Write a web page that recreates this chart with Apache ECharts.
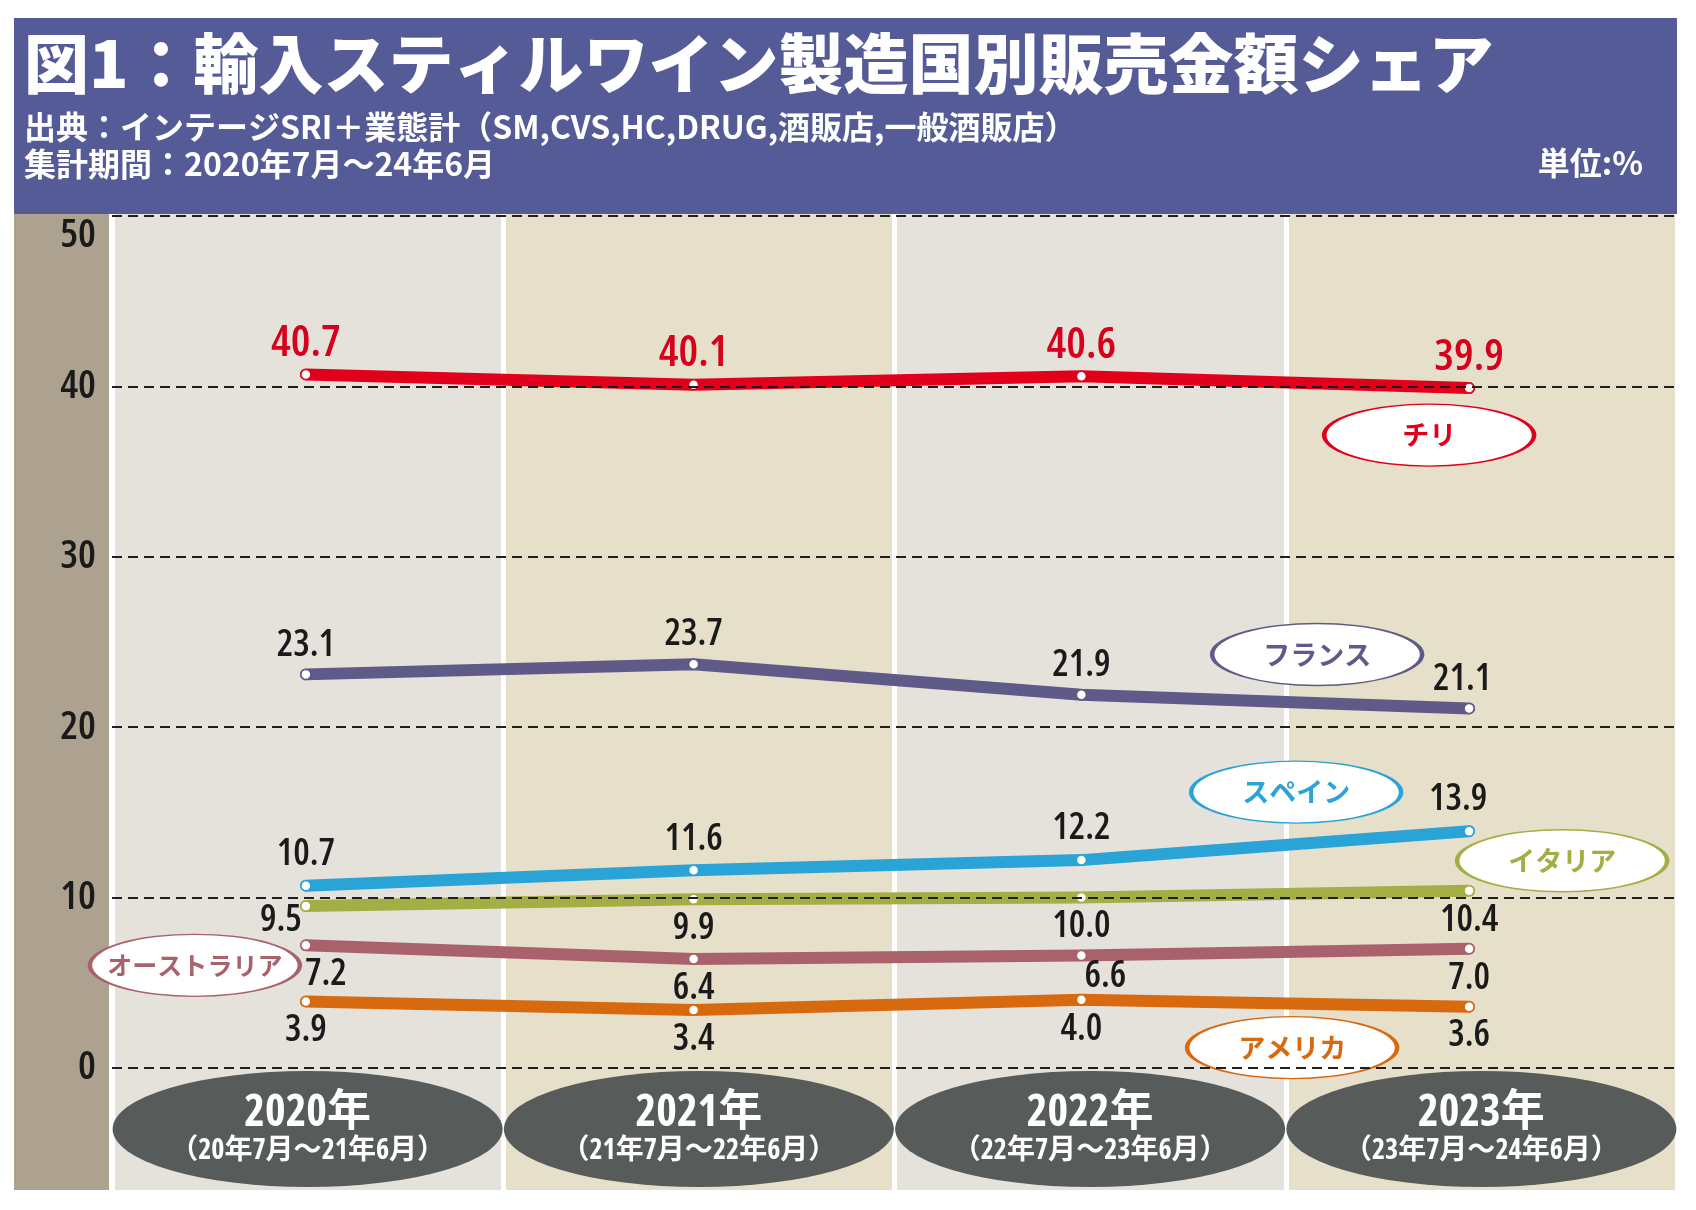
<!DOCTYPE html>
<html>
<head>
<meta charset="utf-8">
<script src="https://cdn.jsdelivr.net/npm/echarts@6/dist/echarts.min.js"></script>
<style>
html,body{margin:0;padding:0;background:#ffffff;}
#chart{width:1696px;height:1210px;}
</style>
</head>
<body>
<div id="chart"></div>
<script>
// ---------- data ----------
const categories = ['2020年', '2021年', '2022年', '2023年'];
const periods = ['（20年7月～21年6月）', '（21年7月～22年6月）', '（22年7月～23年6月）', '（23年7月～24年6月）'];
const yTickMin = 0, yTickMax = 50, yTickStep = 10;

const chile     = [40.7, 40.1, 40.6, 39.9];
const france    = [23.1, 23.7, 21.9, 21.1];
const spain     = [10.7, 11.6, 12.2, 13.9];
const italy     = [9.5, 9.9, 10.0, 10.4];
const australia = [7.2, 6.4, 6.6, 7.0];
const usa       = [3.9, 3.4, 4.0, 3.6];

const titleText = '図1：輸入スティルワイン製造国別販売金額シェア';
const sourceText = '出典：インテージSRI＋業態計（SM,CVS,HC,DRUG,酒販店,一般酒販店）';
const periodText = '集計期間：2020年7月～24年6月';
const unitText = '単位:%';

// ---------- styles ----------
const NUM = '"Open Sans","Roboto",sans-serif';
const NUM_W = '600 condensed';
const JP = '"Noto Sans CJK JP","Noto Sans JP",sans-serif';
const MIX = '"Open Sans","Noto Sans CJK JP",sans-serif';

const seriesDefs = [
  {name: 'チリ', values: chile, color: '#e0001b', labelColor: '#d6001c', labelSize: 44, pos: 'top', dist: 3, tagAt: 3, tagOff: [-40, 47]},
  {name: 'フランス', values: france, color: '#5f5a87', pos: 'top', dist: 5, tagAt: 3, tagOff: [-152, -54]},
  {name: 'スペイン', values: spain, color: '#2aa3d6', pos: 'top', dist: 7, tagAt: 3, tagOff: [-173, -39]},
  {name: 'イタリア', values: italy, color: '#a3ae45', pos: 'bottom', dist: 5, tagAt: 3, tagOff: [93, -30]},
  {name: 'オーストラリア', values: australia, color: '#a9616c', pos: 'bottom', dist: 5, tagAt: 0, tagOff: [-111, 20], tagSize: 25},
  {name: 'アメリカ', values: usa, color: '#d7690f', pos: 'bottom', dist: 5, tagAt: 3, tagOff: [-177, 41]}
];
// per-point label nudges (pixels)
const labelNudges = {
  'フランス': {3: [-7, 0]},
  'スペイン': {3: [-11, 0]},
  'イタリア': {0: [-25, -15]},
  'オーストラリア': {0: [20, 0], 2: [24, -8]}
};

const LEFT = 112, RIGHT_BG = 19, RIGHT_LINES = 33, TOP = 216, BOTTOM_AXIS = 142;

const lineSeries = seriesDefs.map(d => ({
  type: 'line',
  name: d.name,
  xAxisIndex: 2,
  yAxisIndex: 2,
  clip: false,
  animation: false,
  silent: true,
  symbol: 'circle',
  symbolSize: 10,
  showAllSymbol: true,
  data: d.values.map((v, i) => {
    const nudge = (labelNudges[d.name] || {})[i];
    return nudge ? {value: v, label: {offset: nudge}} : {value: v};
  }),
  lineStyle: {color: d.color, width: 12, cap: 'round', join: 'round'},
  itemStyle: {color: '#ffffff', borderColor: d.color, borderWidth: 1.5},
  label: {
    show: true,
    position: d.pos,
    distance: d.dist,
    formatter: p => Number(p.value).toFixed(1),
    fontFamily: NUM,
    fontWeight: NUM_W,
    fontSize: d.labelSize || 37,
    color: d.labelColor || '#1a1a1a'
  },
  emphasis: {disabled: true},
  markPoint: {
    silent: true,
    animation: false,
    symbol: 'circle',
    symbolSize: [210, 62],
    itemStyle: {color: '#ffffff', borderColor: d.color, borderWidth: 2.5},
    label: {
      show: true,
      position: 'inside',
      formatter: d.name,
      color: d.color,
      fontFamily: JP,
      fontWeight: 'bold',
      fontSize: d.tagSize || 27
    },
    data: [{coord: [d.tagAt, d.values[d.tagAt]], symbolOffset: d.tagOff}]
  }
}));

const bandSeries = {
  type: 'scatter',
  xAxisIndex: 3,
  yAxisIndex: 3,
  silent: true,
  animation: false,
  symbol: 'circle',
  symbolSize: [390, 116],
  itemStyle: {color: '#575b5a', opacity: 1},
  data: categories.map((c, i) => [i, 0.5]),
  label: {
    show: true,
    position: 'inside',
    formatter: p => '{a|' + categories[p.dataIndex] + '}\n{b|' + periods[p.dataIndex] + '}',
    rich: {
      a: {fontFamily: MIX, fontWeight: 'bold condensed', fontSize: 44, lineHeight: 44, color: '#ffffff'},
      b: {fontFamily: MIX, fontWeight: 'bold condensed', fontSize: 28, lineHeight: 32, color: '#ffffff'}
    }
  },
  emphasis: {disabled: true}
};

const headerText = (extra) => Object.assign({
  fontFamily: JP, fontWeight: 'bold', color: '#ffffff'
}, extra);

const option = {
  backgroundColor: '#ffffff',
  animation: false,
  title: [
    {text: titleText, left: 24, top: 31, padding: 0, z: 20,
     textStyle: headerText({fontSize: 65, lineHeight: 65, fontWeight: 900,
       textShadowColor: '#c4c7e2', textShadowOffsetX: 3, textShadowOffsetY: 3, textShadowBlur: 0})},
    {text: sourceText, left: 24, top: 111, padding: 0, z: 20,
     textStyle: headerText({fontSize: 32, lineHeight: 32})},
    {text: periodText, left: 24, top: 148, padding: 0, z: 20,
     textStyle: headerText({fontSize: 32, lineHeight: 32})},
    {text: unitText, right: 53, top: 147, padding: 0, z: 20,
     textStyle: headerText({fontSize: 32, lineHeight: 32})}
  ],
  graphic: [
    {type: 'rect', z: 0, silent: true, shape: {x: 14, y: 18, width: 1663, height: 196}, style: {fill: '#555b96'}},
    {type: 'rect', z: 0, silent: true, shape: {x: 14, y: 214, width: 95, height: 976}, style: {fill: '#aca28f'}}
  ],
  grid: [
    {left: LEFT, right: RIGHT_BG, top: 214, bottom: 20},
    {left: LEFT, right: RIGHT_BG, top: TOP, bottom: BOTTOM_AXIS},
    {left: LEFT, right: RIGHT_LINES, top: TOP, bottom: BOTTOM_AXIS},
    {left: LEFT, right: RIGHT_BG, top: 1068, bottom: 20}
  ],
  xAxis: [
    {gridIndex: 0, type: 'category', data: categories, boundaryGap: true, z: 1,
     axisLine: {show: false}, axisTick: {show: false, interval: 0}, axisLabel: {show: false, interval: 0},
     splitArea: {show: true, interval: 0, areaStyle: {color: ['#e5e2dc', '#e6dfca']}},
     splitLine: {show: true, interval: 0, lineStyle: {color: '#ffffff', width: 5}}},
    {gridIndex: 1, type: 'category', data: categories, show: false},
    {gridIndex: 2, type: 'category', data: categories, boundaryGap: true, show: false},
    {gridIndex: 3, type: 'category', data: categories, boundaryGap: true, show: false}
  ],
  yAxis: [
    {gridIndex: 0, type: 'value', min: 0, max: 1, show: false},
    {gridIndex: 1, type: 'value', min: yTickMin, max: yTickMax, interval: yTickStep, z: 10,
     axisLine: {show: false}, axisTick: {show: false},
     axisLabel: {
       margin: 16, fontFamily: NUM, fontWeight: NUM_W, fontSize: 40, color: '#1a1a1a',
       formatter: v => v === yTickMax ? '{t|' + v + '}' : String(v),
       rich: {t: {padding: [40, 0, 0, 0], fontFamily: NUM, fontWeight: NUM_W, fontSize: 40, color: '#1a1a1a'}}
     },
     splitLine: {show: true, lineStyle: {type: [10, 6], color: '#1f1f1f', width: 2}}},
    {gridIndex: 2, type: 'value', min: yTickMin, max: yTickMax, show: false},
    {gridIndex: 3, type: 'value', min: 0, max: 1, show: false}
  ],
  series: [bandSeries].concat(lineSeries)
};

const chart = echarts.init(document.getElementById('chart'), null, {renderer: 'canvas'});
chart.setOption(option);
</script>
</body>
</html>
